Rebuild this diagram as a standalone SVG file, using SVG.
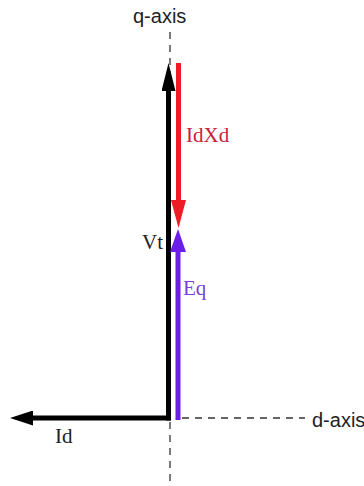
<svg xmlns="http://www.w3.org/2000/svg" width="364" height="486" viewBox="0 0 364 486">
  <style>
    .axis { stroke: #333; stroke-width: 1.3; fill: none; stroke-dasharray: 7 6; }
    .axis-label { font-family: "Liberation Sans", Arial, sans-serif; font-size: 20px; fill: #222; }
    .vec-label { font-family: "Liberation Serif", "Times New Roman", serif; font-size: 21px; }
    .vec { fill: none; stroke-width: 5; stroke-linecap: butt; }
  </style>
  <defs>
    <marker id="ah-black" viewBox="0 0 28 14" refX="0" refY="7" markerWidth="28" markerHeight="14" markerUnits="userSpaceOnUse" orient="auto">
      <path d="M0,0 L28,7 L0,14 z" fill="#000"/>
    </marker>
    <marker id="ah-black-s" viewBox="0 0 23 15" refX="0" refY="7.5" markerWidth="23" markerHeight="15" markerUnits="userSpaceOnUse" orient="auto">
      <path d="M0,0 L23,7.5 L0,15 z" fill="#000"/>
    </marker>
    <marker id="ah-red" viewBox="0 0 28 15" refX="0" refY="7.5" markerWidth="28" markerHeight="15" markerUnits="userSpaceOnUse" orient="auto">
      <path d="M0,0 L28,7.5 L0,15 z" fill="#ee1c24"/>
    </marker>
    <marker id="ah-purple" viewBox="0 0 23 16" refX="0" refY="8" markerWidth="23" markerHeight="16" markerUnits="userSpaceOnUse" orient="auto">
      <path d="M0,0 L23,8 L0,16 z" fill="#6a1ee8"/>
    </marker>
  </defs>
  <rect width="364" height="486" fill="#fff"/>

  <g id="axes">
    <line class="axis" x1="170" y1="32" x2="170" y2="486"/>
    <line class="axis" x1="182" y1="418" x2="305" y2="418"/>
    <text class="axis-label" x="133" y="23">q-axis</text>
    <text class="axis-label" x="312" y="427" font-size="19">d-axis</text>
  </g>

  <g id="connectors">
    <line id="Vt-vec" class="vec" stroke="#000" x1="168.5" y1="420.5" x2="168.5" y2="91" marker-end="url(#ah-black)"/>
    <line id="Id-vec" class="vec" stroke="#000" x1="171" y1="418" x2="33" y2="418" marker-end="url(#ah-black-s)"/>
    <line id="IdXd-vec" class="vec" stroke="#ee1c24" x1="178.5" y1="63" x2="178.5" y2="200" marker-end="url(#ah-red)"/>
    <line id="Eq-vec" class="vec" stroke="#6a1ee8" x1="178" y1="420" x2="178" y2="252" marker-end="url(#ah-purple)"/>
  </g>

  <g id="node-Vt">
    <text class="vec-label" x="142" y="249" fill="#222">Vt</text>
  </g>
  <g id="node-IdXd">
    <text class="vec-label" x="186" y="142" fill="#c8203a">IdXd</text>
  </g>
  <g id="node-Eq">
    <text class="vec-label" x="183" y="295" fill="#7b3fd8">Eq</text>
  </g>
  <g id="node-Id">
    <text class="vec-label" x="55" y="443" fill="#222">Id</text>
  </g>
</svg>
